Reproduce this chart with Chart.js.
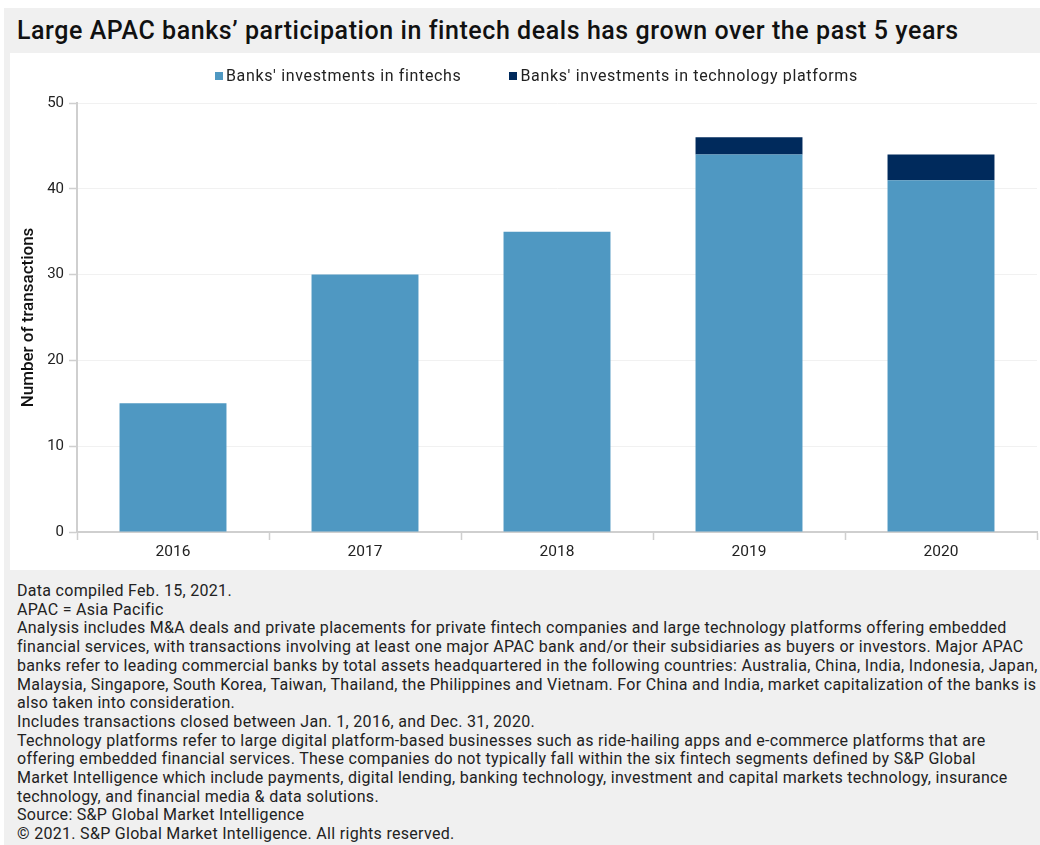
<!DOCTYPE html>
<html>
<head>
<meta charset="utf-8">
<script src="https://cdn.jsdelivr.net/npm/chart.js@4.4.1/dist/chart.umd.min.js"></script>
<style>
  html, body { margin: 0; padding: 0; background: #ffffff; }
  body { width: 1040px; height: 845px; overflow: hidden; position: relative; font-family: Roboto, "Liberation Sans", sans-serif; }
  #frame { position: absolute; left: 4px; top: 8px; width: 1036px; height: 837px; background: #f0f0f0; }
  #title { position: absolute; left: 13px; top: 0; height: 45px; line-height: 45px; font-size: 25px; font-weight: 500; color: #111; white-space: nowrap; letter-spacing: 0.56px; }
  #panel { position: absolute; left: 6px; top: 45px; width: 1030px; height: 517px; background: #ffffff; }
  #legend { position: absolute; left: 205px; top: 13px; font-size: 16px; color: #222; white-space: nowrap; letter-spacing: 0.65px; }
  #legend span.item { display: inline-block; margin-right: 48px; }
  #legend span.box { display: inline-block; width: 8px; height: 8px; margin-right: 3px; vertical-align: 1px; }
  #notes { position: absolute; left: 13px; top: 574px; font-size: 16px; line-height: 18.7px; color: #222; white-space: nowrap; letter-spacing: 0.3px; }
  canvas { position: absolute; left: 0; top: 0; }
</style>
</head>
<body>
<div id="frame">
  <div id="title">Large APAC banks’ participation in fintech deals has grown over the past 5 years</div>
  <div id="panel">
    <canvas id="dealsChart" width="1030" height="517"></canvas>
    <div id="legend"></div>
  </div>
  <div id="notes">
    <div>Data compiled Feb. 15, 2021.</div>
    <div>APAC = Asia Pacific</div>
    <div>Analysis includes M&amp;A deals and private placements for private fintech companies and large technology platforms offering embedded</div>
    <div>financial services, with transactions involving at least one major APAC bank and/or their subsidiaries as buyers or investors. Major APAC</div>
    <div>banks refer to leading commercial banks by total assets headquartered in the following countries: Australia, China, India, Indonesia, Japan,</div>
    <div>Malaysia, Singapore, South Korea, Taiwan, Thailand, the Philippines and Vietnam. For China and India, market capitalization of the banks is</div>
    <div>also taken into consideration.</div>
    <div>Includes transactions closed between Jan. 1, 2016, and Dec. 31, 2020.</div>
    <div>Technology platforms refer to large digital platform-based businesses such as ride-hailing apps and e-commerce platforms that are</div>
    <div>offering embedded financial services. These companies do not typically fall within the six fintech segments defined by S&amp;P Global</div>
    <div>Market Intelligence which include payments, digital lending, banking technology, investment and capital markets technology, insurance</div>
    <div>technology, and financial media &amp; data solutions.</div>
    <div>Source: S&amp;P Global Market Intelligence</div>
    <div>© 2021. S&amp;P Global Market Intelligence. All rights reserved.</div>
  </div>
</div>
<script>
// Chart data
const years = ['2016', '2017', '2018', '2019', '2020'];
const fintechDeals = [15, 30, 35, 44, 41];
const platformDeals = [0, 0, 0, 2, 3];
const seriesNames = ["Banks' investments in fintechs", "Banks' investments in technology platforms"];
const yTicks = [0, 10, 20, 30, 40, 50];

const colors = {
    fintech: '#4f98c2',
    platform: '#002a5c',
    axis: '#cfcfcf',
    grid: '#f1f1f1',
    text: '#222222'
};

// Simple HTML legend built from the series names
const legendEl = document.getElementById('legend');
[colors.fintech, colors.platform].forEach((c, i) => {
    const item = document.createElement('span');
    item.className = 'item';
    item.innerHTML = `<span class="box" style="background:${c}"></span>${seriesNames[i]}`;
    legendEl.appendChild(item);
});

const ctx = document.getElementById('dealsChart').getContext('2d');
new Chart(ctx, {
    type: 'bar',
    data: {
        labels: years,
        datasets: [
            {
                label: seriesNames[0],
                data: fintechDeals,
                backgroundColor: colors.fintech,
                borderWidth: 0,
                categoryPercentage: 1.0,
                barPercentage: 0.557
            },
            {
                label: seriesNames[1],
                data: platformDeals,
                backgroundColor: colors.platform,
                borderWidth: 0,
                categoryPercentage: 1.0,
                barPercentage: 0.557
            }
        ]
    },
    options: {
        responsive: false,
        animation: false,
        devicePixelRatio: 1,
        layout: { padding: { top: 50, right: 3, bottom: 8, left: 0 } },
        plugins: {
            legend: { display: false },
            tooltip: { enabled: false }
        },
        scales: {
            x: {
                stacked: true,
                offset: true,
                grid: {
                    offset: true,
                    drawOnChartArea: false,
                    drawTicks: true,
                    tickLength: 8,
                    tickColor: colors.axis,
                    tickWidth: 1.5
                },
                border: { color: colors.axis, width: 2 },
                ticks: {
                    color: colors.text,
                    padding: 3,
                    font: { family: 'Roboto', size: 15.5 }
                },
                afterFit: (scale) => { scale.height = 30; }
            },
            y: {
                stacked: true,
                min: 0,
                max: 50,
                afterBuildTicks: (scale) => { scale.ticks = yTicks.map(v => ({ value: v })); },
                grid: {
                    color: colors.grid,
                    tickColor: colors.axis,
                    tickLength: 8,
                    tickWidth: 1.5
                },
                border: { color: colors.axis, width: 2 },
                ticks: {
                    color: colors.text,
                    padding: 5,
                    font: { family: 'Roboto', size: 15 }
                },
                title: {
                    display: true,
                    text: 'Number of transactions',
                    color: '#111',
                    padding: { top: 9, bottom: 0 },
                    font: { family: 'Roboto', size: 17, weight: '500' }
                },
                afterFit: (scale) => { scale.width = 67; }
            }
        }
    }
});
</script>
</body>
</html>
